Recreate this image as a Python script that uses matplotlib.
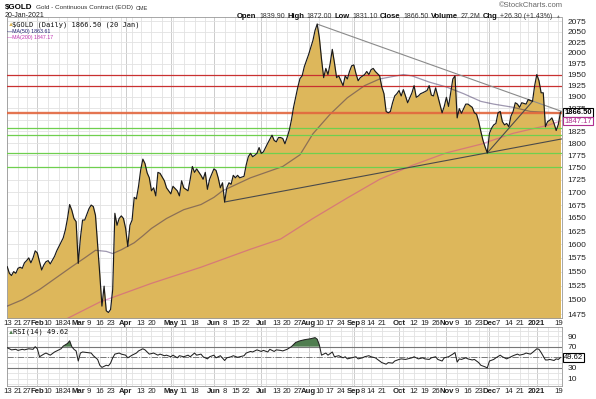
import numpy as np
import matplotlib
matplotlib.use("Agg")
import matplotlib.pyplot as plt
import matplotlib.transforms as mtrans
from matplotlib.ticker import FixedLocator, NullLocator, NullFormatter, FuncFormatter

plt.rcParams['font.family'] = ['Liberation Sans', 'DejaVu Sans']

# --- данные ---

price_dates = [
    "2020-01-13", "2020-01-14", "2020-01-15", "2020-01-16", "2020-01-17", "2020-01-21", "2020-01-22",
    "2020-01-23", "2020-01-24", "2020-01-27", "2020-01-28", "2020-01-29", "2020-01-30", "2020-01-31",
    "2020-02-03", "2020-02-04", "2020-02-05", "2020-02-06", "2020-02-07", "2020-02-10", "2020-02-11",
    "2020-02-12", "2020-02-13", "2020-02-14", "2020-02-19", "2020-02-20", "2020-02-21", "2020-02-24",
    "2020-02-25", "2020-02-26", "2020-02-27", "2020-02-28",
    "2020-03-02", "2020-03-03", "2020-03-04", "2020-03-05", "2020-03-09", "2020-03-10", "2020-03-11",
    "2020-03-12", "2020-03-13", "2020-03-16", "2020-03-17", "2020-03-18", "2020-03-19", "2020-03-20",
    "2020-03-23", "2020-03-24", "2020-03-25", "2020-03-26", "2020-03-27", "2020-03-30", "2020-03-31",
    "2020-04-01", "2020-04-02", "2020-04-03", "2020-04-06", "2020-04-07", "2020-04-08", "2020-04-09",
    "2020-04-13", "2020-04-14", "2020-04-15", "2020-04-16", "2020-04-17", "2020-04-20", "2020-04-21",
    "2020-04-22", "2020-04-23", "2020-04-24", "2020-04-28", "2020-04-29",
    "2020-05-01", "2020-05-04", "2020-05-06", "2020-05-07", "2020-05-08", "2020-05-11", "2020-05-13",
    "2020-05-14", "2020-05-15", "2020-05-18", "2020-05-19", "2020-05-21", "2020-05-22", "2020-05-26",
    "2020-05-27", "2020-05-28",
    "2020-06-01", "2020-06-02", "2020-06-03", "2020-06-04", "2020-06-05", "2020-06-08", "2020-06-09",
    "2020-06-10", "2020-06-11", "2020-06-12", "2020-06-15", "2020-06-16", "2020-06-17", "2020-06-19",
    "2020-06-22", "2020-06-23", "2020-06-24", "2020-06-25", "2020-06-26", "2020-06-29", "2020-06-30",
    "2020-07-01", "2020-07-02", "2020-07-06", "2020-07-07", "2020-07-09", "2020-07-10", "2020-07-13",
    "2020-07-14", "2020-07-15", "2020-07-16", "2020-07-17", "2020-07-20", "2020-07-21", "2020-07-22",
    "2020-07-23", "2020-07-24", "2020-07-27", "2020-07-28", "2020-07-29", "2020-07-30",
    "2020-08-03", "2020-08-05", "2020-08-06", "2020-08-07", "2020-08-10", "2020-08-11", "2020-08-12",
    "2020-08-13", "2020-08-14", "2020-08-17", "2020-08-18", "2020-08-19", "2020-08-20", "2020-08-21",
    "2020-08-24", "2020-08-25", "2020-08-26", "2020-08-27", "2020-08-28", "2020-08-31",
    "2020-09-01", "2020-09-02", "2020-09-03", "2020-09-04", "2020-09-09", "2020-09-10", "2020-09-11",
    "2020-09-14", "2020-09-15", "2020-09-16", "2020-09-17", "2020-09-18", "2020-09-21", "2020-09-22",
    "2020-09-23", "2020-09-24", "2020-09-25", "2020-09-28", "2020-09-29", "2020-09-30",
    "2020-10-01", "2020-10-02", "2020-10-05", "2020-10-06", "2020-10-07", "2020-10-09", "2020-10-12",
    "2020-10-13", "2020-10-14", "2020-10-15", "2020-10-16", "2020-10-20", "2020-10-21", "2020-10-22",
    "2020-10-23", "2020-10-26", "2020-10-27", "2020-10-29", "2020-10-30",
    "2020-11-02", "2020-11-03", "2020-11-04", "2020-11-05", "2020-11-06", "2020-11-09", "2020-11-10",
    "2020-11-11", "2020-11-12", "2020-11-13", "2020-11-16", "2020-11-18", "2020-11-19", "2020-11-20",
    "2020-11-23", "2020-11-24", "2020-11-25", "2020-11-27", "2020-11-30",
    "2020-12-01", "2020-12-02", "2020-12-03", "2020-12-04", "2020-12-07", "2020-12-08", "2020-12-09",
    "2020-12-10", "2020-12-11", "2020-12-14", "2020-12-15", "2020-12-16", "2020-12-17", "2020-12-18",
    "2020-12-21", "2020-12-22", "2020-12-24", "2020-12-28", "2020-12-30", "2020-12-31",
    "2021-01-04", "2021-01-05", "2021-01-06", "2021-01-07", "2021-01-08", "2021-01-11", "2021-01-12",
    "2021-01-13", "2021-01-14", "2021-01-15", "2021-01-19", "2021-01-20",
]
price_close = [
    1559, 1547, 1543, 1550, 1547, 1556, 1558, 1556, 1566, 1570, 1575, 1566, 1575, 1588,
    1584, 1568, 1553, 1562, 1568, 1570, 1564, 1571, 1578, 1588, 1604, 1612, 1627, 1649,
    1676, 1665, 1649, 1643,
    1565, 1612, 1646, 1646, 1668, 1675, 1672, 1655, 1599, 1545, 1489, 1524, 1481, 1478,
    1483, 1518, 1659, 1636, 1649, 1654, 1649,
    1630, 1596, 1636, 1646, 1690, 1687, 1712, 1745, 1767, 1758, 1739, 1729, 1703, 1709,
    1693, 1740, 1738, 1723, 1709,
    1697, 1712, 1703, 1693, 1723, 1709, 1703, 1726, 1752, 1740, 1747, 1734, 1726, 1740,
    1706, 1726,
    1747, 1744, 1729, 1709, 1719, 1681, 1709, 1719, 1716, 1734, 1729, 1734, 1729, 1732,
    1755, 1772, 1779, 1772, 1775, 1779, 1791,
    1779, 1782, 1791, 1800, 1817, 1806, 1803, 1812, 1812, 1810, 1799, 1812, 1827, 1849,
    1877, 1899, 1922, 1941, 1947, 1968,
    1996, 2029, 2053, 2068, 2035, 1985, 1943, 1964, 1950, 1975, 2008, 1977, 1943, 1947,
    1936, 1925, 1947, 1940, 1957, 1970,
    1972, 1952, 1936, 1943, 1950, 1957, 1950, 1961, 1964, 1957, 1952, 1947, 1922, 1907,
    1868, 1865, 1868, 1887, 1902, 1907,
    1914, 1902, 1916, 1902, 1887, 1909, 1925, 1899, 1902, 1907, 1909, 1914, 1925, 1904,
    1902, 1920, 1902, 1865, 1879,
    1899, 1879, 1909, 1940, 1947, 1854, 1874, 1864, 1874, 1884, 1884, 1877, 1865, 1862,
    1846, 1825, 1806, 1792, 1780,
    1821, 1832, 1839, 1842, 1865, 1868, 1846, 1839, 1842, 1835, 1858, 1868, 1887, 1884,
    1877, 1887, 1884, 1894, 1890, 1925,
    1950, 1936, 1909, 1909, 1835, 1846, 1849, 1854, 1842, 1827, 1840, 1866.5,
]

ma50_dates = ["2020-01-13", "2020-01-23", "2020-02-04", "2020-02-13", "2020-02-26", "2020-03-05",
              "2020-03-12", "2020-03-19", "2020-03-24", "2020-03-30", "2020-04-07", "2020-04-14",
              "2020-04-20", "2020-04-29", "2020-05-11", "2020-05-21", "2020-06-01", "2020-06-05",
              "2020-06-24", "2020-07-16", "2020-07-28", "2020-08-05", "2020-08-17", "2020-08-27",
              "2020-09-09", "2020-09-18", "2020-10-05", "2020-10-09", "2020-10-21", "2020-11-02",
              "2020-11-12", "2020-11-24", "2020-12-03", "2020-12-16", "2020-12-29", "2021-01-11",
              "2021-01-20"]
ma50_vals = [1489, 1500, 1518, 1537, 1559, 1575, 1589, 1587, 1583, 1590, 1603, 1616, 1630, 1649,
             1666, 1676, 1690, 1703, 1729, 1752, 1776, 1820, 1862, 1898, 1925, 1940, 1950, 1947,
             1933, 1922, 1907, 1890, 1884, 1877, 1868, 1866, 1863.61]

ma200_dates = ["2020-02-21", "2020-03-16", "2020-04-20", "2020-05-21", "2020-06-24", "2020-07-15",
               "2020-08-05", "2020-08-27", "2020-09-18", "2020-10-09", "2020-11-02", "2020-11-24",
               "2020-12-16", "2021-01-11", "2021-01-20"]
ma200_vals = [1466, 1496, 1529, 1558, 1591, 1610, 1649, 1689, 1726, 1754, 1780, 1798, 1821, 1838,
              1847.17]

rsi_dates = [
    "2020-01-13", "2020-01-15", "2020-01-17", "2020-01-21", "2020-01-23", "2020-01-24", "2020-01-28",
    "2020-01-30", "2020-01-31", "2020-02-03", "2020-02-04", "2020-02-06", "2020-02-07", "2020-02-11",
    "2020-02-13", "2020-02-14", "2020-02-19", "2020-02-20", "2020-02-24", "2020-02-25", "2020-02-26",
    "2020-02-27", "2020-02-28", "2020-03-02", "2020-03-03", "2020-03-04", "2020-03-06", "2020-03-10",
    "2020-03-11", "2020-03-13", "2020-03-16", "2020-03-17", "2020-03-19", "2020-03-20", "2020-03-23",
    "2020-03-24", "2020-03-25", "2020-03-27", "2020-03-30", "2020-04-01", "2020-04-02", "2020-04-06",
    "2020-04-08", "2020-04-09", "2020-04-14", "2020-04-15", "2020-04-16", "2020-04-17", "2020-04-21",
    "2020-04-23", "2020-04-24", "2020-04-28", "2020-04-29", "2020-05-01", "2020-05-04", "2020-05-06",
    "2020-05-07", "2020-05-11", "2020-05-13", "2020-05-14", "2020-05-18", "2020-05-19", "2020-05-21",
    "2020-05-22", "2020-05-27", "2020-05-28", "2020-06-01", "2020-06-02", "2020-06-04", "2020-06-08",
    "2020-06-09", "2020-06-11", "2020-06-12", "2020-06-16", "2020-06-17", "2020-06-19", "2020-06-22",
    "2020-06-24", "2020-06-25", "2020-06-29", "2020-07-01", "2020-07-02", "2020-07-07", "2020-07-08",
    "2020-07-10", "2020-07-13", "2020-07-15", "2020-07-16", "2020-07-20", "2020-07-22", "2020-07-24",
    "2020-07-28", "2020-07-30", "2020-08-04", "2020-08-06", "2020-08-07", "2020-08-10", "2020-08-11",
    "2020-08-13", "2020-08-14", "2020-08-18", "2020-08-19", "2020-08-21", "2020-08-25", "2020-08-26",
    "2020-08-27", "2020-08-31", "2020-09-02", "2020-09-03", "2020-09-08", "2020-09-09", "2020-09-11",
    "2020-09-14", "2020-09-16", "2020-09-17", "2020-09-21", "2020-09-23", "2020-09-24", "2020-09-28",
    "2020-09-29", "2020-10-01", "2020-10-02", "2020-10-06", "2020-10-07", "2020-10-09", "2020-10-12",
    "2020-10-14", "2020-10-16", "2020-10-19", "2020-10-21", "2020-10-22", "2020-10-26", "2020-10-27",
    "2020-10-29", "2020-10-30", "2020-11-03", "2020-11-05", "2020-11-06", "2020-11-09", "2020-11-10",
    "2020-11-11", "2020-11-13", "2020-11-16", "2020-11-18", "2020-11-19", "2020-11-23", "2020-11-24",
    "2020-11-27", "2020-11-30", "2020-12-01", "2020-12-03", "2020-12-04", "2020-12-08", "2020-12-09",
    "2020-12-11", "2020-12-14", "2020-12-16", "2020-12-18", "2020-12-21", "2020-12-23", "2020-12-24",
    "2020-12-29", "2020-12-30", "2021-01-04", "2021-01-05", "2021-01-06", "2021-01-07", "2021-01-08",
    "2021-01-11", "2021-01-12", "2021-01-14", "2021-01-15", "2021-01-19", "2021-01-20",
]
rsi_vals = [
    68, 64, 65, 63, 65, 64, 66, 65, 70, 66, 51, 56, 58, 54, 60, 62, 66, 71, 76, 81, 70,
    65, 62, 43, 58, 60, 59, 58, 53, 46, 35, 31, 35, 34, 39, 49, 56, 58, 56, 54, 49, 54,
    58, 62, 66, 64, 60, 56, 58, 54, 56, 53, 54, 51, 54, 49, 53, 51, 54, 51, 58, 54, 56,
    51, 47, 51, 54, 49, 53, 44, 49, 51, 53, 50, 51, 53, 58, 61, 60, 64, 61, 63, 60, 65,
    61, 64, 63, 62, 65, 70, 78, 81, 83, 85, 87, 84, 73, 54, 58, 54, 60, 51, 53, 49, 51,
    47, 49, 51, 47, 49, 51, 53, 51, 49, 46, 40, 37, 40, 39, 43, 46, 47, 46, 47, 49, 51,
    47, 49, 47, 46, 49, 51, 46, 43, 49, 51, 56, 59, 41, 47, 46, 49, 47, 45, 46, 40, 35,
    32, 30, 43, 46, 49, 54, 51, 47, 49, 53, 56, 54, 56, 58, 56, 59, 66, 65, 59, 52, 45,
    45, 46, 44, 47, 46, 49.62,
]

resist_levels = [1950, 1925]
pivot_level = 1865
support_levels = [1832, 1818, 1780, 1750]

down_dates = ["2020-08-07", "2021-01-20"]
down_vals = [2068, 1869]
up_long_dates = ["2020-06-08", "2020-11-30"]
up_long_vals = [1681, 1780]
up_short_dates = ["2020-11-30", "2020-12-30"]
up_short_vals = [1780, 1890]

tick_dates = ["2020-01-13", "2020-01-21", "2020-01-27", "2020-02-03", "2020-02-10", "2020-02-18",
              "2020-02-24", "2020-03-02", "2020-03-09", "2020-03-16", "2020-03-23", "2020-04-01",
              "2020-04-13", "2020-04-20", "2020-05-01", "2020-05-11", "2020-05-18", "2020-06-01",
              "2020-06-08", "2020-06-15", "2020-06-22", "2020-07-01", "2020-07-13", "2020-07-20",
              "2020-07-27", "2020-08-03", "2020-08-10", "2020-08-17", "2020-08-24", "2020-09-01",
              "2020-09-08", "2020-09-14", "2020-09-21", "2020-10-01", "2020-10-12", "2020-10-19",
              "2020-10-26", "2020-11-02", "2020-11-09", "2020-11-16", "2020-11-23", "2020-12-01",
              "2020-12-07", "2020-12-14", "2020-12-21", "2021-01-04", "2021-01-19"]
tick_labels = ["13", "21", "27", "Feb", "10", "18", "24", "Mar", "9", "16", "23", "Apr", "13", "20",
               "May", "11", "18", "Jun", "8", "15", "22", "Jul", "13", "20", "27", "Aug", "10", "17",
               "24", "Sep", "8", "14", "21", "Oct", "12", "19", "26", "Nov", "9", "16", "23", "Dec",
               "7", "14", "21", "2021", "19"]
extra_grid_dates = ["2020-03-30", "2020-04-06", "2020-04-27", "2020-05-04", "2020-05-26",
                    "2020-06-29", "2020-07-06", "2020-08-31", "2020-10-05", "2020-11-30",
                    "2020-12-28", "2021-01-11"]

price_ticks = list(range(1475, 2076, 25))
price_tick_hidden = [1850]          # закрыта меткой MA(200)
rsi_ticks = [10, 30, 70, 90]

HOLIDAYS = ["2020-01-20", "2020-02-17", "2020-04-10", "2020-05-25", "2020-07-03", "2020-09-07",
            "2020-11-26", "2020-12-25", "2021-01-01", "2021-01-18"]


# торговые дни -> ось x (без выходных, как у StockCharts)
def tday(dates):
    d = np.array(dates, dtype='datetime64[D]')
    return np.busday_count(np.datetime64('2020-01-13'), d, holidays=HOLIDAYS).astype(float)


W, H = 596, 399
GOLD = '#ddb75b'
XMIN, XMAX = -0.1, 257.7

fig = plt.figure(figsize=(W / 100, H / 100), dpi=100)
fig.patch.set_facecolor('white')
ax = fig.add_axes([7 / W, 1 - 318 / H, 555 / W, 300.5 / H])
ax2 = fig.add_axes([7 / W, 1 - 386 / H, 555 / W, 59 / H])

px = tday(price_dates)
pc = np.array(price_close, dtype=float)

# сетка
month_x = [tday([d])[0] for d, l in zip(tick_dates, tick_labels) if not l.isdigit() or len(l) == 4]
for a in (ax, ax2):
    for gx in tday(tick_dates + extra_grid_dates):
        c = '#c4c4c4' if gx in month_x else '#e2e2e2'
        a.axvline(gx, color=c, lw=0.6, zorder=0)

# основная панель
ax.set_yscale('log')
ax.set_xlim(XMIN, XMAX)
ax.set_ylim(1468.5, 2084)
for v in price_ticks:
    ax.axhline(v, color='#e2e2e2', lw=0.6, zorder=0)

ax.fill_between(px, pc, 1400, color=GOLD, lw=0, zorder=2)
ax.plot(tday(ma50_dates), ma50_vals, color='#2a1a50', alpha=0.45, lw=0.9, zorder=3)
ax.plot(tday(ma200_dates), ma200_vals, color='#d0309a', alpha=0.45, lw=0.9, zorder=3)

for v in resist_levels:
    ax.axhline(v, color='#c83030', lw=0.9, zorder=4)
ax.axhline(pivot_level, color='#e2663e', lw=1.7, alpha=0.9, zorder=4)
for v in support_levels:
    ax.axhline(v, color='#6fcf4f', lw=0.9, zorder=4)


def trend(a, dates, vals, extend, color):
    x = tday(dates)
    lv = np.log(vals)
    k = (lv[1] - lv[0]) / (x[1] - x[0])
    x_end = XMAX if extend else x[1]
    a.plot([x[0], x_end], [vals[0], np.exp(lv[0] + k * (x_end - x[0]))], color=color, lw=0.8, zorder=5)


trend(ax, down_dates, down_vals, True, '#8a8a8a')
trend(ax, up_long_dates, up_long_vals, True, '#4a4a4a')
trend(ax, up_short_dates, up_short_vals, False, '#4a4a4a')

ax.plot(px, pc, color='#1a1a1a', lw=0.85, zorder=6)

ax.yaxis.tick_right()
ax.yaxis.set_major_locator(FixedLocator(price_ticks))
ax.yaxis.set_major_formatter(FuncFormatter(
    lambda v, p: '' if round(v) in price_tick_hidden else '%d' % round(v)))
ax.yaxis.set_minor_locator(NullLocator())
ax.yaxis.set_minor_formatter(NullFormatter())
ax.tick_params(axis='y', length=0, pad=4, labelsize=6, labelcolor='#222222')

# панель RSI
rx = tday(rsi_dates)
rv = np.array(rsi_vals, dtype=float)
ax2.set_xlim(XMIN, XMAX)
ax2.set_ylim(-4, 107)
for v in range(0, 101, 10):
    ax2.axhline(v, color='#e2e2e2', lw=0.6, zorder=0)
ax2.axhline(70, color='#777777', lw=0.8, zorder=2)
ax2.axhline(30, color='#777777', lw=0.8, zorder=2)
ax2.axhline(50, color='#777777', lw=0.7, ls='-.', zorder=2)
ax2.fill_between(rx, rv, 70, where=rv > 70, interpolate=True, color='#4f7d4f', lw=0, zorder=3)
ax2.plot(rx, rv, color='#222222', lw=0.75, zorder=4)
ax2.yaxis.tick_right()
ax2.set_yticks(rsi_ticks)
ax2.tick_params(axis='y', length=0, pad=4, labelsize=6, labelcolor='#222222')

for a in (ax, ax2):
    a.set_xticks(tday(tick_dates))
    a.set_xticklabels(tick_labels)
    a.tick_params(axis='x', length=0, pad=1.5, labelsize=5.6, labelcolor='#222222')
    for t in a.get_xticklabels():
        if not t.get_text().isdigit() or len(t.get_text()) == 4:
            t.set_fontweight('bold')
    for s in a.spines.values():
        s.set_color('#999999')
        s.set_linewidth(0.6)

# ценовые метки справа
blend = mtrans.blended_transform_factory(ax.transAxes, ax.transData)
ax.text(1.004, price_close[-1], '%.2f' % price_close[-1], transform=blend, fontsize=5.5,
        fontweight='bold', va='center', ha='left', zorder=10, clip_on=False,
        bbox=dict(boxstyle='square,pad=0.12', fc='white', ec='black', lw=0.8))
ax.text(1.004, ma200_vals[-1], '%.2f' % ma200_vals[-1], transform=blend, fontsize=5.5,
        color='#b03090', va='center', ha='left', zorder=10, clip_on=False,
        bbox=dict(boxstyle='square,pad=0.12', fc='white', ec='#b03090', lw=0.8))
blend2 = mtrans.blended_transform_factory(ax2.transAxes, ax2.transData)
ax2.text(1.004, rsi_vals[-1], '%.2f' % rsi_vals[-1], transform=blend2, fontsize=5.5,
         va='center', ha='left', zorder=10, clip_on=False,
         bbox=dict(boxstyle='square,pad=0.12', fc='white', ec='black', lw=0.8))


# заголовок
def ftext(x, y, s, **kw):
    return fig.text(x / W, 1 - y / H, s, va='center', **kw)


r = fig.canvas.get_renderer()
t = ftext(5, 7.5, '$GOLD', fontsize=5.8, fontweight='bold')
x = 5 + t.get_window_extent(renderer=r).width + 3
t = ftext(x, 8, 'Gold - Continuous Contract (EOD)', fontsize=4.6, color='#333333')
ftext(x + t.get_window_extent(renderer=r).width + 3, 8.3, 'CME', fontsize=4, color='#333333')
ftext(5, 15.5, '20-Jan-2021', fontsize=5, color='#222222')
ftext(563, 5.5, '\u00a9StockCharts.com', fontsize=5.5, color='#666666', ha='right')

header = [('Open', True), ('1839.90', False), ('High', True), ('1872.00', False),
          ('Low', True), ('1831.10', False), ('Close', True), ('1866.50', False),
          ('Volume', True), ('27.2M', False), ('Chg', True), ('+26.30 (+1.43%)', False),
          ('\u25b2', False)]
x = 560
for s, bold in reversed(header):
    t = ftext(x, 16, s, ha='right', fontsize=5.5 if bold else 5,
              fontweight='bold' if bold else 'normal',
              color='#111111' if bold else '#333333')
    if s == '\u25b2':
        t.set_fontsize(3.5)
        t.set_color('#777777')
    x -= t.get_window_extent(renderer=r).width + 2.5

# легенда
ftext(7.5, 24.5, '\u25b2', fontsize=4.5, color=GOLD)
ftext(12.5, 24.5, '$GOLD (Daily) 1866.50 (20 Jan)', fontsize=5, family='DejaVu Sans Mono', color='#111111')
ftext(7, 31, '\u2014MA(50) 1863.61', fontsize=3.8, color='#1c1c70')
ftext(7, 38, '\u2014MA(200) 1847.17', fontsize=3.8, color='#c030b0')
ftext(8, 332, '\u25b2', fontsize=4.5, color='#4f7d4f')
ftext(13, 332, 'RSI(14) 49.62', fontsize=5, family='DejaVu Sans Mono', color='#111111')

fig.savefig('out.png', dpi=100, facecolor='white')
